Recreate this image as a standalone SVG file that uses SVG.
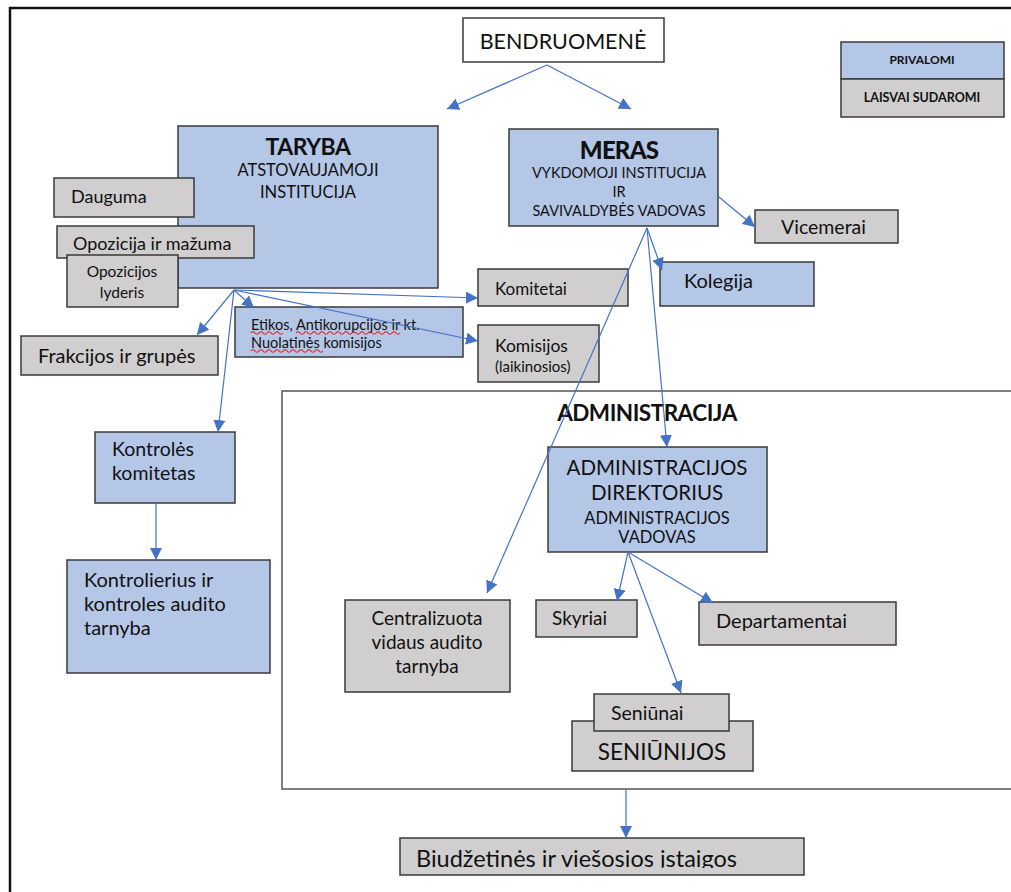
<svg xmlns="http://www.w3.org/2000/svg" width="1011" height="892" viewBox="0 0 1011 892">
  <style>
    text { font-family: Lato, "Open Sans", "Liberation Sans", sans-serif; fill: #111; }
    .box { stroke: #3a3a3a; stroke-width: 1.5; }
    .req { fill: #b4c7e7; }
    .opt { fill: #d0cece; }
    .plain { fill: #ffffff; }
    .frame { fill: none; stroke: #555; stroke-width: 1.5; }
    .conn line { stroke: #4472c4; stroke-width: 1.2; marker-end: url(#arrow); }
    .mid { text-anchor: middle; }
    .b { font-weight: 700; }
    .squig { fill: none; stroke: #e02020; stroke-width: 1.2; }
  </style>
  <defs>
    <marker id="arrow" viewBox="0 0 10 10" refX="10" refY="5" markerWidth="12" markerHeight="12" markerUnits="userSpaceOnUse" orient="auto">
      <path d="M0,0 L10,5 L0,10 z" fill="#4472c4"/>
    </marker>
    <clipPath id="clipBiud">
      <rect x="400" y="838" width="404" height="30"/>
    </clipPath>
  </defs>

  <!-- page border -->
  <path d="M10,892 V8 H1011" fill="none" stroke="#111" stroke-width="2.5"/>

  <!-- administration frame -->
  <g id="administracija">
    <rect class="frame" x="282" y="391" width="740" height="398"/>
    <text class="mid b" x="647" y="421" font-size="22.5" letter-spacing="-0.5">ADMINISTRACIJA</text>
  </g>

  <!-- legend -->
  <g id="legend">
    <rect class="box req" x="841" y="42" width="163" height="37"/>
    <text class="mid b" x="922" y="64" font-size="12">PRIVALOMI</text>
    <rect class="box opt" x="841" y="79" width="163" height="38"/>
    <text class="mid b" x="922" y="102" font-size="12.5">LAISVAI SUDAROMI</text>
  </g>

  <g id="bendruomene">
    <rect class="box plain" x="463" y="18" width="201" height="44"/>
    <text class="mid" x="563" y="49" font-size="21.5">BENDRUOMENĖ</text>
  </g>

  <g id="taryba">
    <rect class="box req" x="178" y="126" width="260" height="162"/>
    <text class="mid b" x="308" y="155" font-size="23" letter-spacing="-0.5">TARYBA</text>
    <text class="mid" x="308" y="176" font-size="16.5">ATSTOVAUJAMOJI</text>
    <text class="mid" x="308" y="198" font-size="16.5">INSTITUCIJA</text>
  </g>

  <g id="dauguma">
    <rect class="box opt" x="54" y="178" width="140" height="39"/>
    <text x="71" y="203" font-size="18">Dauguma</text>
  </g>

  <g id="opozicija">
    <rect class="box opt" x="57" y="226" width="197" height="32"/>
    <text x="73" y="250" font-size="18">Opozicija ir mažuma</text>
  </g>

  <g id="opozicijos-lyderis">
    <rect class="box opt" x="67" y="255" width="111" height="52"/>
    <text class="mid" x="122" y="277" font-size="15.5">Opozicijos</text>
    <text class="mid" x="122" y="298" font-size="15.5">lyderis</text>
  </g>

  <g id="frakcijos">
    <rect class="box opt" x="21" y="336" width="197" height="39"/>
    <text x="38" y="363" font-size="20">Frakcijos ir grupės</text>
  </g>

  <g id="etikos">
    <rect class="box req" x="235" y="307" width="228" height="50"/>
    <text x="251" y="330" font-size="14.5">Etikos, Antikorupcijos ir kt.</text>
    <text x="251" y="348" font-size="14.5">Nuolatinės komisijos</text>
    <path class="squig" d="M251,333 q2,-2.5 4,0 t4,0 t4,0 t4,0 t4,0 t4,0 t4,0 t4,0"/>
    <path class="squig" d="M296,333 q2,-2.5 4,0 t4,0 t4,0 t4,0 t4,0 t4,0 t4,0 t4,0 t4,0 t4,0 t4,0 t4,0 t4,0 t4,0 t4,0 t4,0 t4,0 t4,0 t4,0 t4,0 t4,0 t4,0 t4,0 t4,0 t4,0 t4,0"/>
    <path class="squig" d="M251,351 q2,-2.5 4,0 t4,0 t4,0 t4,0 t4,0 t4,0 t4,0 t4,0 t4,0 t4,0 t4,0 t4,0 t4,0 t4,0 t4,0 t4,0 t4,0 t4,0"/>
  </g>

  <g id="komitetai">
    <rect class="box opt" x="478" y="269" width="150" height="37"/>
    <text x="495" y="295" font-size="17">Komitetai</text>
  </g>

  <g id="komisijos">
    <rect class="box opt" x="478" y="325" width="121" height="57"/>
    <text x="495" y="352" font-size="17.5">Komisijos</text>
    <text x="495" y="372" font-size="15">(laikinosios)</text>
  </g>

  <g id="meras">
    <rect class="box req" x="509" y="129" width="209" height="97"/>
    <text class="mid" x="619" y="159" font-size="24" font-weight="900" letter-spacing="-0.8">MERAS</text>
    <text class="mid" x="619" y="178" font-size="14.5">VYKDOMOJI INSTITUCIJA</text>
    <text class="mid" x="619" y="197" font-size="14.5">IR</text>
    <text class="mid" x="619" y="216" font-size="14.5">SAVIVALDYBĖS VADOVAS</text>
  </g>

  <g id="vicemerai">
    <rect class="box opt" x="755" y="210" width="143" height="33"/>
    <text x="781" y="234" font-size="19.5">Vicemerai</text>
  </g>

  <g id="kolegija">
    <rect class="box req" x="660" y="262" width="154" height="44"/>
    <text x="684" y="288" font-size="20">Kolegija</text>
  </g>

  <g id="direktorius">
    <rect class="box req" x="548" y="447" width="219" height="105"/>
    <text class="mid" x="657" y="475" font-size="20.5">ADMINISTRACIJOS</text>
    <text class="mid" x="657" y="500" font-size="20.5">DIREKTORIUS</text>
    <text class="mid" x="657" y="524" font-size="16.5">ADMINISTRACIJOS</text>
    <text class="mid" x="657" y="543" font-size="16.5">VADOVAS</text>
  </g>

  <g id="centralizuota">
    <rect class="box opt" x="345" y="600" width="165" height="92"/>
    <text class="mid" x="427" y="625" font-size="19">Centralizuota</text>
    <text class="mid" x="427" y="649" font-size="19">vidaus audito</text>
    <text class="mid" x="427" y="673" font-size="19">tarnyba</text>
  </g>

  <g id="skyriai">
    <rect class="box opt" x="536" y="600" width="101" height="37"/>
    <text x="552" y="625" font-size="19">Skyriai</text>
  </g>

  <g id="departamentai">
    <rect class="box opt" x="699" y="602" width="197" height="43"/>
    <text x="716" y="628" font-size="20">Departamentai</text>
  </g>

  <g id="seniunijos">
    <rect class="box opt" x="572" y="721" width="181" height="50"/>
    <text class="mid" x="662" y="760" font-size="22.5">SENIŪNIJOS</text>
  </g>

  <g id="seniunai">
    <rect class="box opt" x="594" y="694" width="135" height="37"/>
    <text x="611" y="720" font-size="19.5">Seniūnai</text>
  </g>

  <g id="kontroles-komitetas">
    <rect class="box req" x="95" y="432" width="140" height="71"/>
    <text x="112" y="456" font-size="19.5">Kontrolės</text>
    <text x="112" y="480" font-size="19.5">komitetas</text>
  </g>

  <g id="kontrolierius">
    <rect class="box req" x="67" y="560" width="203" height="113"/>
    <text x="84" y="587" font-size="20">Kontrolierius ir</text>
    <text x="84" y="611" font-size="20">kontroles audito</text>
    <text x="84" y="635" font-size="20">tarnyba</text>
  </g>

  <g id="biudzetines">
    <rect class="box opt" x="400" y="838" width="404" height="37"/>
    <text x="416" y="867" font-size="23.5" clip-path="url(#clipBiud)">Biudžetinės ir viešosios įstaigos</text>
  </g>

  <!-- connectors -->
  <g id="connectors" class="conn">
    <line x1="547" y1="65" x2="447" y2="109"/>
    <line x1="547" y1="65" x2="631" y2="109"/>
    <line x1="234" y1="290" x2="197" y2="335"/>
    <line x1="234" y1="290" x2="254" y2="308"/>
    <line x1="234" y1="290" x2="478" y2="298"/>
    <line x1="234" y1="290" x2="478" y2="341"/>
    <line x1="234" y1="290" x2="218" y2="432"/>
    <line x1="156" y1="503" x2="156" y2="560"/>
    <line x1="719" y1="197" x2="755" y2="227"/>
    <line x1="647" y1="228" x2="662" y2="270"/>
    <line x1="647" y1="228" x2="487" y2="593"/>
    <line x1="647" y1="228" x2="667" y2="447"/>
    <line x1="628" y1="552" x2="617" y2="601"/>
    <line x1="628" y1="552" x2="713" y2="603"/>
    <line x1="628" y1="552" x2="681" y2="693"/>
    <line x1="626" y1="790" x2="626" y2="838"/>
  </g>
</svg>
